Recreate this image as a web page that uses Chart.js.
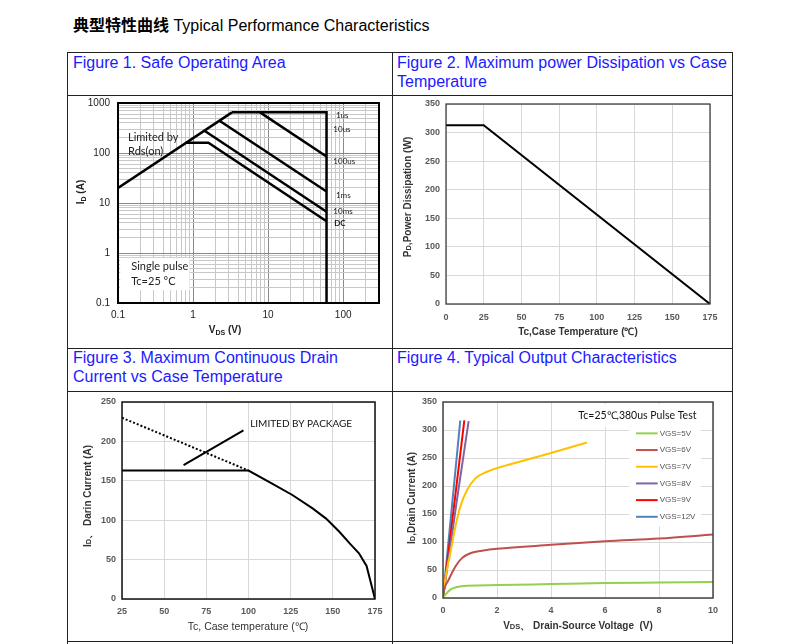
<!DOCTYPE html>
<html>
<head>
<meta charset="utf-8">
<script src="https://cdn.jsdelivr.net/npm/chart.js@4.4.0/dist/chart.umd.min.js"></script>
<style>
body { margin: 0; background: #fff; width: 797px; height: 644px; overflow: hidden; position: relative; font-family: "Liberation Sans", Arial, sans-serif; }
#title { position: absolute; left: 73px; top: 14px; font-size: 16px; line-height: 20px; color: #000; white-space: nowrap; }
#title b { font-family: "Noto Sans CJK SC", sans-serif; font-weight: bold; }
.hl { position: absolute; left: 67px; width: 666px; height: 1px; background: #222; }
.vl { position: absolute; top: 52px; height: 592px; width: 1px; background: #222; }
.cap { position: absolute; color: #1a1aff; font-size: 16px; line-height: 19px; white-space: nowrap; }
canvas { position: absolute; }
.at { position: absolute; transform: translate(-50%, -50%); white-space: nowrap; font-size: 10px; line-height: 12px; font-weight: bold; color: #333; }
.at.rot { transform: translate(-50%, -50%) rotate(-90deg); }
.at sub { font-size: 7px; vertical-align: -2px; line-height: 0; }
.at small { font-size: 7.5px; }
</style>
</head>
<body>
<div id="title"><b>典型特性曲线</b> Typical Performance Characteristics</div>

<div class="hl" style="top:52px"></div>
<div class="hl" style="top:95px"></div>
<div class="hl" style="top:348px"></div>
<div class="hl" style="top:391px"></div>
<div class="hl" style="top:641px"></div>
<div class="vl" style="left:67px"></div>
<div class="vl" style="left:392px"></div>
<div class="vl" style="left:732px"></div>

<div class="cap" style="left:73px;top:53px">Figure 1. Safe Operating Area</div>
<div class="cap" style="left:397px;top:53px">Figure 2. Maximum power Dissipation vs Case<br>Temperature</div>
<div class="cap" style="left:73px;top:348px">Figure 3. Maximum Continuous Drain<br>Current vs Case Temperature</div>
<div class="cap" style="left:397px;top:348px">Figure 4. Typical Output Characteristics</div>

<canvas id="chart1" width="323" height="251" style="left:68px;top:96px"></canvas>
<canvas id="chart2" width="338" height="251" style="left:393px;top:96px"></canvas>
<canvas id="chart3" width="323" height="248" style="left:68px;top:392px"></canvas>
<canvas id="chart4" width="338" height="248" style="left:393px;top:392px"></canvas>

<!-- axis titles -->
<div class="at rot" style="left:81px;top:192px;color:#222">I<sub>D</sub> (A)</div>
<div class="at" style="left:225px;top:330px;color:#222">V<sub>DS</sub> (V)</div>
<div class="at rot" style="left:408px;top:197px">P<small>D</small>,Power Dissipation (W)</div>
<div class="at" style="left:578px;top:332px">Tc,Case Temperature (℃)</div>
<div class="at rot" style="left:88px;top:496px">I<small>D</small>、 Darin Current (A)</div>
<div class="at" style="left:248px;top:626px;font-weight:normal;font-size:10.5px">Tc, Case temperature (℃)</div>
<div class="at rot" style="left:412px;top:498px">I<small>D</small>,Drain Current (A)</div>
<div class="at" style="left:578px;top:626px">V<small>DS</small>、 Drain-Source Voltage&nbsp; (V)</div>

<script>
// figure 1: safe operating area (log-log)
var soaXLabels = [0.1, 1, 10, 100];
var soaYLabels = [0.1, 1, 10, 100, 1000];
var rdsV = [0.1, 3.3], rdsI = [20, 650];
var us1V = [3.3, 60, 60], us1I = [650, 650, 0.1];
var us100V = [7.8, 60], us100I = [650, 85];
var ms1V = [2.25, 60], ms1I = [440, 17];
var ms10V = [1.42, 60], ms10I = [278, 6.7];
var dcV = [0.8, 1.6, 60], dcI = [160, 160, 4.3];

// figure 2: power dissipation vs case temperature
var pdTemp = [0, 25, 175];
var pdPower = [313, 313, 0];

// figure 3: continuous drain current vs case temperature
var idTemp = [25, 100, 114, 126, 138, 146, 154, 160, 165.5, 170, 175];
var idCurrent = [163, 163, 146.5, 132, 115, 102, 85, 70.5, 58, 42, 0];
var limTemp = [25, 100], limCurrent = [230, 163];
var leaderTemp = [61.5, 97], leaderCurrent = [170, 214];

// figure 4: output characteristics
var vgsLabels = ["VGS=5V", "VGS=6V", "VGS=7V", "VGS=8V", "VGS=9V", "VGS=12V"];
var vgsColors = ["#92d050", "#c0504d", "#ffc000", "#8064a2", "#ff0000", "#4f81bd"];
var vds5 = [0, 0.09, 0.27, 0.52, 0.89, 2, 4, 6, 8, 10];
var id5 = [0, 6, 15, 19.6, 22, 23.1, 24.9, 26.7, 27.6, 28.5];
var vds6 = [0, 0.02, 0.21, 0.46, 0.7, 1.01, 1.5, 2, 4, 6, 8, 10];
var id6 = [0, 9, 32.6, 56.4, 71.2, 80, 84.8, 87.8, 94.9, 101.4, 106.2, 113.3];
var vds7 = [0, 0.02, 0.27, 0.46, 0.64, 0.89, 1.2, 1.63, 2, 3, 4, 5.33];
var id7 = [0, 12, 80, 127.5, 163, 192.8, 213.6, 225.4, 232, 245.5, 259, 277.6];
var vds8 = [0, 0.5, 0.95], id8 = [0, 170, 316];
var vds9 = [0, 0.79], id9 = [0, 317];
var vds12 = [0, 0.64], id12 = [0, 317];

Chart.defaults.font.family = "'Liberation Sans', Arial, sans-serif";
Chart.defaults.color = "#333";
Chart.defaults.animation = false;

function pts(xs, ys) {
    var out = [];
    for (var i = 0; i < xs.length; i++) out.push({ x: xs[i], y: ys[i] });
    return out;
}

function logTicks(min, max) {
    var list = [];
    for (var e = Math.floor(Math.log10(min)); e <= Math.ceil(Math.log10(max)); e++) {
        for (var k = 1; k < 10; k++) {
            var v = Number((k * Math.pow(10, e)).toPrecision(6));
            if (v >= min && v <= max) list.push(v);
        }
    }
    return list;
}

//draws a box round the plot area
var framePlugin = {
    id: "frame",
    afterDatasetsDraw: function (chart, args, opts) {
        var a = chart.chartArea, ctx = chart.ctx;
        ctx.save();
        ctx.strokeStyle = opts.color || "#000";
        ctx.lineWidth = opts.width || 1;
        ctx.strokeRect(a.left, a.top, a.right - a.left, a.bottom - a.top);
        ctx.restore();
    }
};

//text and white boxes placed at data coordinates
function drawNotes(chart, list) {
    var ctx = chart.ctx, xs = chart.scales.x, ys = chart.scales.y;
    (list || []).forEach(function (n) {
        ctx.save();
        if (n.box) {
            var x1 = xs.getPixelForValue(n.box[0]), y1 = ys.getPixelForValue(n.box[1]);
            var x2 = xs.getPixelForValue(n.box[2]), y2 = ys.getPixelForValue(n.box[3]);
            ctx.fillStyle = "#fff";
            ctx.fillRect(x1, y1, x2 - x1, y2 - y1);
        } else {
            ctx.font = n.font;
            ctx.fillStyle = n.color || "#222";
            ctx.textAlign = n.align || "left";
            ctx.textBaseline = "middle";
            ctx.fillText(n.text, xs.getPixelForValue(n.x), ys.getPixelForValue(n.y));
        }
        ctx.restore();
    });
}
var notesPlugin = {
    id: "notes",
    beforeDatasetsDraw: function (chart, args, opts) { drawNotes(chart, opts.under); },
    afterDatasetsDraw: function (chart, args, opts) { drawNotes(chart, opts.over); }
};

//legend inside plot for figure 4
var vgsLegendPlugin = {
    id: "vgsLegend",
    afterDatasetsDraw: function (chart, args, opts) {
        if (!opts.x) return;
        var ctx = chart.ctx, xs = chart.scales.x, ys = chart.scales.y;
        ctx.save();
        ctx.font = "8px 'Liberation Sans', Arial, sans-serif";
        ctx.textBaseline = "middle";
        chart.data.datasets.forEach(function (ds, i) {
            var y = ys.getPixelForValue(opts.y - i * opts.dy);
            var x1 = xs.getPixelForValue(opts.x), x2 = xs.getPixelForValue(opts.x + opts.len);
            ctx.strokeStyle = ds.borderColor;
            ctx.lineWidth = 2;
            ctx.beginPath();
            ctx.moveTo(x1, y);
            ctx.lineTo(x2, y);
            ctx.stroke();
            ctx.fillStyle = "#555";
            ctx.fillText(ds.label, x2 + 2, y);
        });
        ctx.restore();
    }
};

Chart.register(framePlugin, notesPlugin, vgsLegendPlugin);

// fixed axis sizes, without the extra room chart.js keeps for end labels
function fixWidth(w) { return function (s) { s.width = w; s.paddingTop = 0; s.paddingBottom = 0; }; }
function fixHeight(h) { return function (s) { s.height = h; s.paddingLeft = 0; s.paddingRight = 0; }; }

var boldTick = { size: 9, weight: "bold" };
var tickGray = "#595959";
var lightGrid = { color: "#d9d9d9", lineWidth: 1, drawTicks: false };

// ---------- figure 1 ----------
var soaXGrid = logTicks(0.1, 300);
var soaYGrid = logTicks(0.1, 1000);
function soaLine(xs, ys) {
    return { data: pts(xs, ys), borderColor: "#000", borderWidth: 2.5, pointRadius: 0, showLine: true, fill: false };
}
new Chart(document.getElementById("chart1"), {
    type: "scatter",
    data: {
        datasets: [
            soaLine(rdsV, rdsI),
            soaLine(us1V, us1I),
            soaLine(us100V, us100I),
            soaLine(ms1V, ms1I),
            soaLine(ms10V, ms10I),
            soaLine(dcV, dcI)
        ]
    },
    options: {
        responsive: false,
        layout: { padding: { left: 0, top: 7, right: 12, bottom: 0 } },
        plugins: {
            legend: { display: false },
            tooltip: { enabled: false },
            frame: { color: "#000", width: 2 },
            notes: {
                under: [
                    { box: [0.107, 0.8, 0.9, 0.18] },
                    { x: 0.15, y: 0.53, text: "Single pulse", font: "11px Lato, sans-serif" },
                    { x: 0.15, y: 0.275, text: "Tc=25 °C", font: "11px Lato, sans-serif" },
                    { x: 0.136, y: 200, text: "Limited by", font: "11px Lato, sans-serif" },
                    { x: 0.136, y: 105, text: "Rds(on)", font: "11px Lato, sans-serif" }
                ],
                over: [
                    { x: 80, y: 575, text: "1us", font: "8px Lato, sans-serif" },
                    { x: 74, y: 298, text: "10us", font: "8px Lato, sans-serif" },
                    { x: 74, y: 67, text: "100us", font: "8px Lato, sans-serif" },
                    { x: 80, y: 14.5, text: "1ms", font: "8px Lato, sans-serif" },
                    { x: 74, y: 6.7, text: "10ms", font: "8px Lato, sans-serif" },
                    { x: 76, y: 3.9, text: "DC", font: "bold 8px Lato, sans-serif" }
                ]
            }
        },
        scales: {
            x: {
                type: "logarithmic", min: 0.1, max: 300,
                afterBuildTicks: function (s) { s.ticks = soaXGrid.map(function (v) { return { value: v }; }); },
                afterFit: fixHeight(44),
                ticks: {
                    autoSkip: false, maxRotation: 0, padding: 6, color: "#222", font: { size: 10 },
                    callback: function (v) { return soaXLabels.indexOf(v) >= 0 ? String(v) : ""; }
                },
                grid: {
                    drawTicks: false,
                    color: function (c) { return c.tick && soaXLabels.indexOf(c.tick.value) >= 0 ? "#8a8a8a" : "#c8c8c8"; }
                },
                border: { display: false }
            },
            y: {
                type: "logarithmic", min: 0.1, max: 1000,
                afterBuildTicks: function (s) { s.ticks = soaYGrid.map(function (v) { return { value: v }; }); },
                afterFit: fixWidth(50),
                ticks: {
                    autoSkip: false, padding: 8, color: "#222", font: { size: 10 },
                    callback: function (v) { return soaYLabels.indexOf(v) >= 0 ? String(v) : ""; }
                },
                grid: {
                    drawTicks: false,
                    color: function (c) { return c.tick && soaYLabels.indexOf(c.tick.value) >= 0 ? "#8a8a8a" : "#c8c8c8"; }
                },
                border: { display: false }
            }
        }
    }
});

// ---------- figure 2 ----------
new Chart(document.getElementById("chart2"), {
    type: "scatter",
    data: {
        datasets: [{ data: pts(pdTemp, pdPower), borderColor: "#000", borderWidth: 2, pointRadius: 0, showLine: true }]
    },
    options: {
        responsive: false,
        layout: { padding: { left: 0, top: 8, right: 21, bottom: 0 } },
        plugins: { legend: { display: false }, tooltip: { enabled: false }, frame: { color: "#333", width: 1.2 } },
        scales: {
            x: {
                min: 0, max: 175, afterFit: fixHeight(43),
                ticks: { stepSize: 25, padding: 8, color: tickGray, font: boldTick, maxRotation: 0 },
                grid: lightGrid, border: { display: false }
            },
            y: {
                min: 0, max: 350, afterFit: fixWidth(53),
                ticks: { stepSize: 50, padding: 6, color: tickGray, font: boldTick },
                grid: lightGrid, border: { display: false }
            }
        }
    }
});

// ---------- figure 3 ----------
new Chart(document.getElementById("chart3"), {
    type: "scatter",
    data: {
        datasets: [
            { data: pts(idTemp, idCurrent), borderColor: "#000", borderWidth: 2, pointRadius: 0, showLine: true },
            { data: pts(limTemp, limCurrent), borderColor: "#000", borderWidth: 2, borderDash: [2, 2], pointRadius: 0, showLine: true },
            { data: pts(leaderTemp, leaderCurrent), borderColor: "#000", borderWidth: 2, pointRadius: 0, showLine: true }
        ]
    },
    options: {
        responsive: false,
        layout: { padding: { left: 0, top: 10, right: 16, bottom: 0 } },
        plugins: {
            legend: { display: false }, tooltip: { enabled: false }, frame: { color: "#111", width: 1.5 },
            notes: { over: [{ x: 101, y: 222, text: "LIMITED BY PACKAGE", font: "10px Lato, sans-serif", color: "#111" }] }
        },
        scales: {
            x: {
                min: 25, max: 175, afterFit: fixHeight(41),
                ticks: { stepSize: 25, padding: 7, color: tickGray, font: boldTick, maxRotation: 0 },
                grid: lightGrid, border: { display: false }
            },
            y: {
                min: 0, max: 250, afterFit: fixWidth(54),
                ticks: { stepSize: 50, padding: 6, color: tickGray, font: boldTick },
                grid: lightGrid, border: { display: false }
            }
        }
    }
});

// ---------- figure 4 ----------
var vgsX = [vds5, vds6, vds7, vds8, vds9, vds12];
var vgsY = [id5, id6, id7, id8, id9, id12];
var outSets = [];
for (var i = 0; i < vgsLabels.length; i++) {
    outSets.push({
        label: vgsLabels[i], data: pts(vgsX[i], vgsY[i]), borderColor: vgsColors[i], borderWidth: 2,
        pointRadius: 0, showLine: true, cubicInterpolationMode: "monotone"
    });
}
new Chart(document.getElementById("chart4"), {
    type: "scatter",
    data: { datasets: outSets },
    options: {
        responsive: false,
        layout: { padding: { left: 0, top: 10, right: 18, bottom: 0 } },
        plugins: {
            legend: { display: false }, tooltip: { enabled: false }, frame: { color: "#444", width: 1.5 },
            notes: {
                under: [
                    { box: [4.8, 346, 9.55, 305] },
                    { box: [6.9, 310, 9.55, 128] }
                ],
                over: [{ x: 7.2, y: 326, text: "Tc=25℃,380us Pulse Test", font: "10.5px Lato, sans-serif", color: "#111", align: "center" }]
            },
            vgsLegend: { x: 7.15, y: 294, dy: 29.8, len: 0.8 }
        },
        scales: {
            x: {
                min: 0, max: 10, afterFit: fixHeight(42),
                ticks: { stepSize: 2, padding: 7, color: tickGray, font: boldTick, maxRotation: 0 },
                grid: lightGrid, border: { display: false }
            },
            y: {
                min: 0, max: 350, afterFit: fixWidth(50),
                ticks: { stepSize: 50, padding: 6, color: tickGray, font: boldTick },
                grid: lightGrid, border: { display: false }
            }
        }
    }
});
</script>
</body>
</html>
